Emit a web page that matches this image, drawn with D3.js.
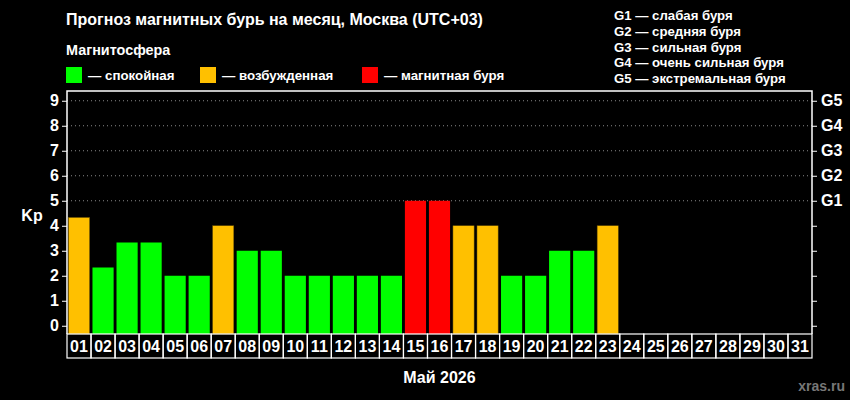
<!DOCTYPE html>
<html>
<head>
<meta charset="utf-8">
<script src="https://cdn.jsdelivr.net/npm/d3@7"></script>
<style>
  body { margin: 0; background: #000; }
  text { font-family: "Liberation Sans", Arial, sans-serif; font-weight: bold; fill: #fff; }
</style>
</head>
<body>
<script>
// forecast for May 2026, Kp index by day
var days = ["01","02","03","04","05","06","07","08","09","10","11","12","13","14","15","16",
            "17","18","19","20","21","22","23","24","25","26","27","28","29","30","31"];
var kp = [4.33, 2.33, 3.33, 3.33, 2, 2, 4, 3, 3, 2, 2, 2, 2, 2, 5, 5,
          4, 4, 2, 2, 3, 3, 4, null, null, null, null, null, null, null, null];
var kpTicks = [0, 1, 2, 3, 4, 5, 6, 7, 8, 9];
var gTicks = [5, 6, 7, 8, 9];
var gLabels = ["G1", "G2", "G3", "G4", "G5"];
var gNotes = ["G1 — слабая буря", "G2 — средняя буря", "G3 — сильная буря",
              "G4 — очень сильная буря", "G5 — экстремальная буря"];
var legendLabels = ["— спокойная", "— возбужденная", "— магнитная буря"];
var legendColors = ["#00ff00", "#ffc000", "#ff0000"];

var width = 850, height = 400;
var plotL = 67, plotR = 812, plotT = 91, plotB = 334;

var svg = d3.select("body").append("svg").attr("width", width).attr("height", height);
svg.append("rect").attr("width", width).attr("height", height).attr("fill", "#000");

var x = d3.scaleBand().domain(days).range([plotL, plotR]).paddingInner(0.12).paddingOuter(0.06);
var cell = d3.scaleBand().domain(days).range([plotL, plotR]);
var y = d3.scaleLinear().domain([-0.33, 9.39]).range([plotB, plotT]);

function colorOf(v) {
    if (v >= 5) return legendColors[2];
    if (v >= 4) return legendColors[1];
    return legendColors[0];
}

// headings
svg.append("text").attr("x", 66).attr("y", 25).attr("font-size", 16)
    .text("Прогноз магнитных бурь на месяц, Москва (UTC+03)");
svg.append("text").attr("x", 66).attr("y", 55).attr("font-size", 14.4).text("Магнитосфера");

var leg = svg.selectAll("g.leg").data(legendLabels).enter().append("g").attr("class", "leg")
    .attr("transform", function (d, i) { return "translate(" + [66, 200, 362][i] + ",67)"; });
leg.append("rect").attr("width", 16).attr("height", 16)
    .attr("fill", function (d, i) { return legendColors[i]; });
leg.append("text").attr("x", 22).attr("y", 13).attr("font-size", 13.3).text(function (d) { return d; });

svg.selectAll("text.gnote").data(gNotes).enter().append("text").attr("class", "gnote")
    .attr("x", 614).attr("y", function (d, i) { return 20 + i * 15.8; })
    .attr("font-size", 13.2).text(function (d) { return d; });

// dotted grid for storm levels
svg.selectAll("line.grid").data(gTicks).enter().append("line").attr("class", "grid")
    .attr("x1", plotL).attr("x2", plotR)
    .attr("y1", function (d) { return y(d); }).attr("y2", function (d) { return y(d); })
    .attr("stroke", "#888").attr("stroke-width", 1).attr("stroke-dasharray", "1,3");

// bars
svg.selectAll("rect.bar").data(days.filter(function (d, i) { return kp[i] != null; }))
    .enter().append("rect").attr("class", "bar")
    .attr("x", function (d) { return x(d); })
    .attr("width", x.bandwidth())
    .attr("y", function (d, i) { return y(kp[i]); })
    .attr("height", function (d, i) { return plotB - y(kp[i]); })
    .attr("fill", function (d, i) { return colorOf(kp[i]); })
    .attr("stroke", "#6a5000").attr("stroke-width", 0.5)
    .attr("stroke-opacity", function (d, i) { return kp[i] >= 4 && kp[i] < 5 ? 1 : 0; });

// axes
var yAxisL = d3.axisLeft(y).tickValues(kpTicks).tickSize(5).tickPadding(3);
var gl = svg.append("g").attr("transform", "translate(" + plotL + ",0)").call(yAxisL);
var yAxisR = d3.axisRight(y).tickValues(kpTicks).tickSize(5).tickPadding(4)
    .tickFormat(function (d) { return d >= 5 ? gLabels[d - 5] : ""; });
var gr = svg.append("g").attr("transform", "translate(" + plotR + ",0)").call(yAxisR);
[gl, gr].forEach(function (g) {
    g.select(".domain").remove();
    g.selectAll(".tick line").attr("stroke", "#fff");
    g.selectAll(".tick text").attr("font-size", 16).attr("fill", "#fff")
        .attr("font-family", "Liberation Sans, Arial, sans-serif").attr("font-weight", "bold");
});

// frame
svg.append("path").attr("d", "M" + plotL + "," + plotB + "V" + plotT + "H" + plotR + "V" + plotB)
    .attr("fill", "none").attr("stroke", "#fff").attr("stroke-width", 1.5);

// date cells
var cells = svg.selectAll("g.cell").data(days).enter().append("g").attr("class", "cell")
    .attr("transform", function (d) { return "translate(" + cell(d) + "," + plotB + ")"; });
cells.append("rect").attr("width", cell.bandwidth()).attr("height", 24)
    .attr("fill", "none").attr("stroke", "#fff").attr("stroke-width", 1.2);
cells.append("text").attr("x", cell.bandwidth() / 2).attr("y", 18).attr("text-anchor", "middle")
    .attr("font-size", 16).text(function (d) { return d; });

svg.append("text").attr("x", 32).attr("y", 221).attr("text-anchor", "middle")
    .attr("font-size", 16).text("Kp");
svg.append("text").attr("x", (plotL + plotR) / 2).attr("y", 383).attr("text-anchor", "middle")
    .attr("font-size", 16).text("Май 2026");
svg.append("text").attr("x", 845).attr("y", 391).attr("text-anchor", "end")
    .attr("font-size", 14).style("fill", "#777").text("xras.ru");
</script>
</body>
</html>
